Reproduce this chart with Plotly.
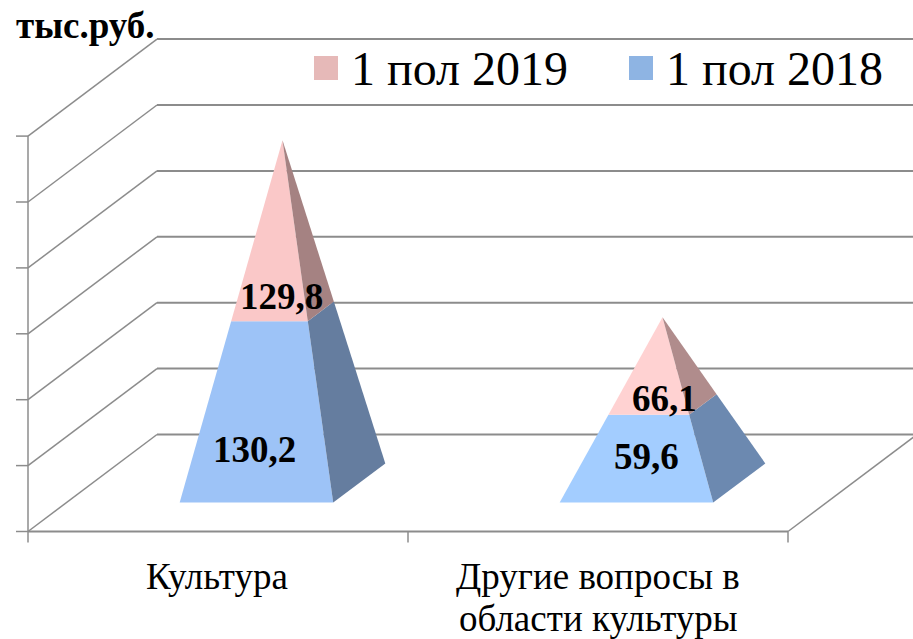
import plotly.graph_objects as go

# ---- data ----
categories = ["Культура", "Другие вопросы в<br>области культуры"]
series_names = ["1 пол 2018", "1 пол 2019"]
values_2018 = [130.2, 59.6]
values_2019 = [129.8, 66.1]
value_ticks = [0, 50, 100, 150, 200, 250, 300]
unit_label = "тыс.руб."

# ---- page geometry and scale ----
W, H = 913, 639
X0_PX, Y0_PX = 28.0, 531.5      # front-left corner of the floor
CAT_PX = 380.0                  # pixels per category
VAL_PX = 1.318                  # pixels per value unit
DEPTH_DX = 129.0 / CAT_PX       # depth vector, in axis units
DEPTH_DY = 97.0 / VAL_PX
HALF = 0.202                    # half width of a pyramid base

FRONT = {"2018": ["#9DC3F7", "#A3CDFF"], "2019": ["#FAC8C8", "#FFD2D2"]}
SIDE = {"2018": ["#657D9F", "#6C89B0"], "2019": ["#A58282", "#B08C8C"]}
GRID = "#8C8C8C"
SERIF = "Liberation Serif"


def pr(x, v, d):
    """3D chart coordinates (category, value, depth) to 2D axis coordinates."""
    return x + d * DEPTH_DX, v + d * DEPTH_DY


def px_x(px):
    return (px - X0_PX) / CAT_PX


def px_y(px):
    return (Y0_PX - px) / VAL_PX


def corner(cx, total, level, sx, sz):
    """Point of a pyramid at height `level`, on the base corner direction (sx, sz)."""
    t = 1 - level / total
    return pr(cx + sx * HALF * t, level, 0.5 + sz * HALF * t)


fig = go.Figure()


def line(points, width):
    fig.add_trace(go.Scatter(
        x=[p[0] for p in points], y=[p[1] for p in points], mode="lines",
        line=dict(color=GRID, width=width), hoverinfo="skip", showlegend=False,
        cliponaxis=True))


def face(points, color, name):
    fig.add_trace(go.Scatter(
        x=[p[0] for p in points], y=[p[1] for p in points], mode="none",
        fill="toself", fillcolor=color, name=name, hoverinfo="name",
        showlegend=False))


# walls, gridlines and ticks
n_cat = len(categories)
for v in value_ticks:
    line([pr(0, v, 0), pr(0, v, 1)], 1.5)
    line([pr(0, v, 1), pr(n_cat, v, 1)], 2)
    line([(px_x(16), v), pr(0, v, 0)], 1.5)
line([pr(0, value_ticks[0], 0), pr(0, value_ticks[-1], 0)], 1.5)
line([pr(0, 0, 0), pr(n_cat, 0, 0)], 2)
line([pr(n_cat, 0, 0), pr(n_cat, 0, 1)], 1.5)
for i in range(n_cat + 1):
    line([pr(i, 0, 0), (i, px_y(Y0_PX + 11))], 1.5)

# stacked pyramids
for i in range(n_cat):
    cx = i + 0.5
    total = values_2018[i] + values_2019[i]
    parts = [("2018", series_names[0], 0, values_2018[i]),
             ("2019", series_names[1], values_2018[i], total)]
    for key, name, a, b in parts:
        face([corner(cx, total, a, -1, -1), corner(cx, total, a, 1, -1),
              corner(cx, total, b, 1, -1), corner(cx, total, b, -1, -1)],
             FRONT[key][i], name)
        face([corner(cx, total, a, 1, -1), corner(cx, total, a, 1, 1),
              corner(cx, total, b, 1, 1), corner(cx, total, b, 1, -1)],
             SIDE[key][i], name)

annotations = []


def text(px, py, s, size, bold=False, anchor="center"):
    annotations.append(dict(
        x=px_x(px), y=px_y(py), xref="x", yref="y", text=f"<b>{s}</b>" if bold else s,
        showarrow=False, xanchor=anchor, yanchor="middle", align="center",
        font=dict(family=SERIF, size=size, color="#000000")))


def fmt(v):
    return f"{v:.1f}".replace(".", ",")


# value labels
text(254, 449, fmt(values_2018[0]), 37, True)
text(281, 296, fmt(values_2019[0]), 37, True)
text(646, 456, fmt(values_2018[1]), 37, True)
text(664, 398, fmt(values_2019[1]), 37, True)

# category labels
text(217, 576, categories[0], 37)
first, second = categories[1].split("<br>")
text(598, 576, first, 37)
text(598, 618, second, 37)

# unit
text(14, 25, unit_label, 37, True, "left")

# legend
legend_items = [(series_names[1], 326, 349, "#E6B9B8"), (series_names[0], 641, 664, "#8EB4E3")]
for name, sw, tx, col in legend_items:
    fig.add_trace(go.Scatter(
        x=[px_x(sw)], y=[px_y(68)], mode="markers", name=name,
        marker=dict(symbol="square", size=24, color=col, line=dict(width=0)),
        hoverinfo="name", showlegend=False))
    text(tx, 68, name, 48, False, "left")

fig.update_layout(
    width=W, height=H, margin=dict(l=0, r=0, t=0, b=0),
    paper_bgcolor="#FFFFFF", plot_bgcolor="#FFFFFF",
    xaxis=dict(range=[px_x(0), px_x(W)], visible=False, fixedrange=True),
    yaxis=dict(range=[px_y(H), px_y(0)], visible=False, fixedrange=True),
    annotations=annotations, showlegend=False,
)
fig.write_html("out.html", config=dict(displayModeBar=False),
               post_script="document.body.style.margin='0';")
